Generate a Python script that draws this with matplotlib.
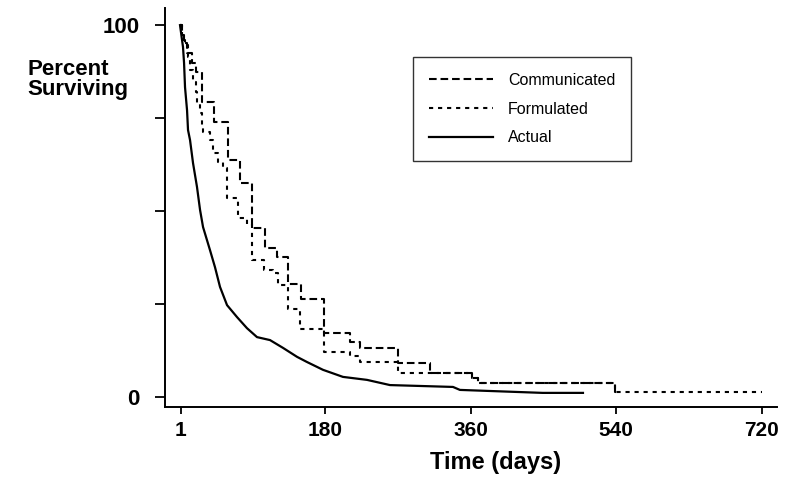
import matplotlib
matplotlib.use('Agg')
import matplotlib.pyplot as plt

# Kaplan-Meier style survival curves
comm_days = [0, 2.5, 5.0, 8.7, 14.9, 19.8, 27.2, 42.1, 59.4, 74.3, 89.1, 105.2,
             120.0, 133.7, 149.8, 178.2, 210.4, 222.8, 269.8, 309.4, 361.4,
             368.8, 538.4, 545]
comm_pct = [100, 97.3, 95.2, 92.5, 89.8, 87.4, 79.3, 73.9, 63.7, 57.5, 45.4, 40.1,
            37.6, 30.4, 26.3, 17.2, 14.8, 13.2, 9.1, 6.5, 5.1,
            3.8, 1.3, 1.3]

form_days = [0, 2.5, 6.2, 9.9, 12.4, 16.1, 19.8, 21.0, 24.8, 27.2, 28.5, 37.1,
             40.8, 47.0, 53.2, 58.2, 71.8, 82.9, 89.1, 104.0, 115.1, 121.3,
             133.7, 148.5, 178.2, 210.4, 222.8, 269.8, 361.4, 368.8, 538.4, 720]
form_pct = [100, 96.0, 94.6, 91.4, 87.9, 84.7, 82.0, 79.0, 76.3, 73.1, 71.2, 69.1,
            65.6, 63.2, 61.6, 53.5, 48.1, 46.5, 36.8, 34.1, 33.3, 30.1,
            23.7, 18.3, 12.1, 11.0, 9.4, 6.5, 5.1, 3.8, 1.3, 1.3]

act_days = [0, 3.7, 5.0, 6.2, 8.7, 9.9, 12.4, 16.1, 21.0, 24.8, 28.5, 37.1,
            43.3, 49.5, 58.2, 70.5, 82.9, 95.3, 111.4, 127.5, 144.8, 157.2,
            177.0, 201.7, 231.4, 259.9, 337.9, 346.5, 449.0, 498.8]
act_pct = [100, 94.1, 89.8, 83.3, 77.1, 71.8, 69.1, 62.9, 56.5, 50.3, 45.7, 39.5,
           34.9, 29.6, 24.7, 21.5, 18.5, 16.1, 15.3, 13.2, 10.8, 9.4,
           7.3, 5.4, 4.6, 3.2, 2.7, 1.9, 1.1, 1.1]

x_ticks = [1, 180, 360, 540, 720]
y_ticks = [0, 25, 50, 75, 100]
y_labels = ['0', '', '', '', '100']

plt.rcParams['font.family'] = ['Liberation Sans', 'DejaVu Sans']
plt.rcParams['lines.scale_dashes'] = False

fig = plt.figure(figsize=(7.94, 4.78), dpi=100)
ax = fig.add_axes([0.2078, 0.1485, 0.7708, 0.8347])

ax.step(comm_days, comm_pct, where='post', color='black', lw=1.5,
        dashes=(5.5, 2.8), label='Communicated')
ax.step(form_days, form_pct, where='post', color='black', lw=1.5,
        dashes=(3.0, 3.5), label='Formulated')
ax.plot(act_days, act_pct, color='black', lw=1.6, label='Actual')

ax.set_xlim(-18.6, 739)
ax.set_ylim(-2.7, 104.6)
ax.set_xticks(x_ticks)
ax.set_yticks(y_ticks)
ax.set_yticklabels(y_labels)
ax.tick_params(axis='both', width=1.3, color='black')
ax.tick_params(axis='y', length=7, pad=11, labelsize=16)
ax.tick_params(axis='x', length=5, pad=5, labelsize=15)
for lab in ax.get_xticklabels() + ax.get_yticklabels():
    lab.set_fontweight('bold')

for s in ['top', 'right']:
    ax.spines[s].set_visible(False)
for s in ['left', 'bottom']:
    ax.spines[s].set_linewidth(1.4)

ax.set_xlabel('Time (days)', fontsize=17, fontweight='bold')
ax.xaxis.set_label_coords(0.54, -0.11)
fig.text(27 / 794, 1 - 59 / 478, 'Percent\nSurviving', fontsize=16,
         fontweight='bold', ha='left', va='top', linespacing=0.95)

leg = ax.legend(loc='upper left', bbox_to_anchor=(413 / 794, 1 - 57 / 478),
                bbox_transform=fig.transFigure, frameon=True,
                prop={'size': 11.5},
                fancybox=False, handlelength=4.0, handletextpad=0.95,
                labelspacing=0.85, borderpad=1.0, borderaxespad=0)
leg.get_frame().set_edgecolor('black')
leg.get_frame().set_linewidth(1.0)

fig.savefig('out.png', dpi=100)
